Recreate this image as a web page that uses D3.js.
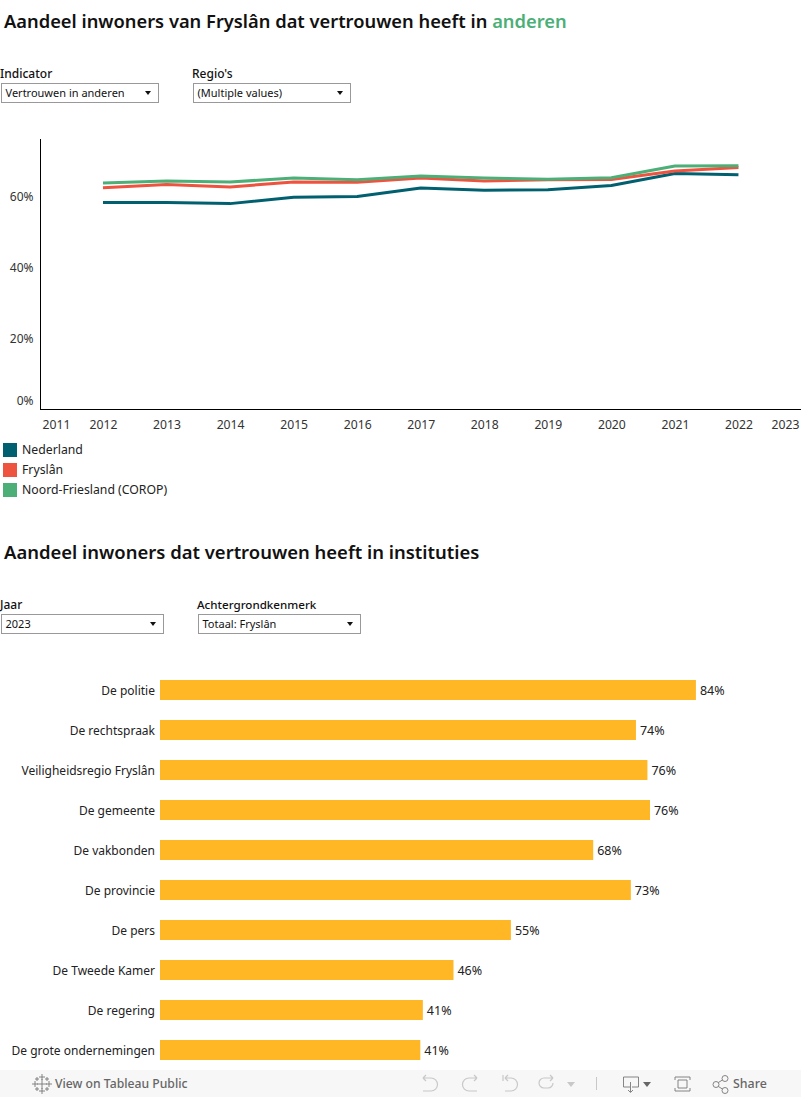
<!DOCTYPE html>
<html><head><meta charset="utf-8">
<script src="https://cdn.jsdelivr.net/npm/d3@7"></script>
<style>
html,body{margin:0;padding:0;background:#fff;overflow:hidden}
svg{display:block}
text{font-family:"Noto Sans","Open Sans",sans-serif}
</style></head><body>
<svg id="c" width="801" height="1097"></svg>
<script>
const years=[2012,2013,2014,2015,2016,2017,2018,2019,2020,2021,2022];
const axisYears=[2011,2012,2013,2014,2015,2016,2017,2018,2019,2020,2021,2022,2023];
const nederland=[58.3,58.3,58.0,59.8,60.0,62.4,61.8,61.9,63.1,66.5,66.1];
const fryslan=[62.5,63.4,62.7,64.1,64.0,65.2,64.4,64.7,64.8,67.2,68.2];
const noordFriesland=[63.8,64.4,64.1,65.2,64.7,65.8,65.2,64.9,65.3,68.6,68.7];
const seriesNames=["Nederland","Fryslân","Noord-Friesland (COROP)"];
const seriesColors=["#00606f","#ee5340","#4caf78"];
const yTicks=[0,20,40,60];
const instituties=["De politie","De rechtspraak","Veiligheidsregio Fryslân","De gemeente","De vakbonden","De provincie","De pers","De Tweede Kamer","De regering","De grote ondernemingen"];
const vertrouwen=[84.0,74.6,76.4,76.8,67.9,73.8,55.0,46.0,41.2,40.8];
const labels=["84%","74%","76%","76%","68%","73%","55%","46%","41%","41%"];

const svg=d3.select("#c");
const ink="#111", grey="#333";
function txt(x,y,s,size,opt={}){
  return svg.append("text").attr("x",x).attr("y",y).text(s)
    .attr("font-size",size).attr("fill",opt.fill||ink)
    .attr("font-weight",opt.weight||400).attr("text-anchor",opt.anchor||"start");
}
// titles
const t1=txt(4,28,"Aandeel inwoners van Fryslân dat vertrouwen heeft in ",18.31,{weight:600});
t1.append("tspan").attr("fill","#4caf78").text("anderen");
txt(4,559,"Aandeel inwoners dat vertrouwen heeft in instituties",18.45,{weight:600});

// dropdowns
function dropdown(lx,ly,label,bx,by,w,val,ls=12){
  txt(lx,ly,label,ls,{weight:500});
  svg.append("rect").attr("x",bx+.5).attr("y",by+.5).attr("width",w).attr("height",19)
    .attr("fill","#fff").attr("stroke","#999");
  txt(bx+4.5,by+14,val,11);
  const cx=bx+w-10, cy=by+10;
  svg.append("path").attr("d",d3.line()([[cx-3,cy-2],[cx+3,cy-2],[cx,cy+2]])+"Z").attr("fill","#111");
}
dropdown(0,78,"Indicator",1,83,157,"Vertrouwen in anderen");
dropdown(192,78,"Regio's",193,83,157,"(Multiple values)");
dropdown(0,609,"Jaar",1,614,162,"2023");
dropdown(197,609,"Achtergrondkenmerk",198,614,162,"Totaal: Fryslân",11.6);

// line chart
const x=d3.scaleLinear().domain([2011,2023]).range([39.45,802]);
const y=d3.scaleLinear().domain([0,75.5]).range([409.5,141.5]);
const g=svg.append("g");
const line=d3.line().x((d,i)=>x(years[i])).y(d=>y(d));
[nederland,fryslan,noordFriesland].forEach((s,i)=>{
  g.append("path").attr("d",line(s)).attr("fill","none").attr("stroke",seriesColors[i])
   .attr("stroke-width",3).attr("stroke-linejoin","round");
});
// axes
const yAxis=svg.append("g").attr("transform","translate(40.5,0)")
  .call(d3.axisLeft(y).tickValues(yTicks).tickSize(0).tickFormat(d=>d+"%"));
yAxis.select(".domain").attr("d",`M0,139V409.5`).attr("stroke","#000");
yAxis.selectAll("text").attr("font-size",12).attr("font-family",null).attr("fill",grey).attr("x",-7)
  .attr("dy",(d)=>d===0?"-5px":"4px");
const xAxis=svg.append("g").attr("transform","translate(0,409.5)")
  .call(d3.axisBottom(x).tickValues(axisYears).tickSize(0).tickFormat(d3.format("d")));
xAxis.select(".domain").attr("d",`M40,0H801`).attr("stroke","#000");
xAxis.selectAll("text").attr("font-size",12.2).attr("font-family",null).attr("fill",grey).attr("y",11).attr("dy",".71em")
  .attr("dx",d=>d===2011?16.5:d===2023?-17:0);

// legend
seriesNames.forEach((n,i)=>{
  const ly=443+i*20;
  svg.append("rect").attr("x",3).attr("y",ly).attr("width",14).attr("height",14).attr("fill",seriesColors[i]);
  txt(22,ly+11,n,12.25,{fill:"#222"});
});

// bars
const bx=d3.scaleLinear().domain([0,100]).range([160,798]);
const by=d3.scaleBand().domain(instituties).range([670,1070]).paddingInner(.5).paddingOuter(.25);
svg.append("g").selectAll("rect").data(instituties).join("rect")
  .attr("x",bx(0)).attr("y",d=>by(d)).attr("height",by.bandwidth())
  .attr("width",(d,i)=>bx(vertrouwen[i])-bx(0)).attr("fill","#ffb726");
instituties.forEach((n,i)=>{
  const cy=by(n)+by.bandwidth()/2+5;
  txt(155,cy,n,12,{anchor:"end",fill:"#222"});
  txt(bx(vertrouwen[i])+4,cy,labels[i],12.5,{fill:"#222"});
});

// toolbar
svg.append("rect").attr("x",0).attr("y",1070).attr("width",801).attr("height",27).attr("fill","#f7f7f7");
txt(55,1088,"View on Tableau Public",12.2,{fill:"#666",weight:500});
txt(733,1088,"Share",12.4,{fill:"#666",weight:500});
const ic=svg.append("g").attr("fill","none").attr("stroke","#777").attr("stroke-width",.9);
// tableau logo
[[42,1084,5],[42,1077,3],[42,1091,3],[35,1084,3],[49,1084,3],[37,1079,2],[47,1079,2],[37,1089,2],[47,1089,2]].forEach(([a,b,r])=>{
  ic.append("path").attr("d",`M${a-r},${b}H${a+r}M${a},${b-r}V${b+r}`);
});
const lite=svg.append("g").attr("fill","none").attr("stroke","#c8c8c8").attr("stroke-width",1.2);
lite.append("path").attr("d","M423,1078H431A6,6 0 0 1 431,1091H423M423,1078L426,1075M423,1078L426,1081");
lite.append("path").attr("d","M477,1078H469A6,6 0 0 0 469,1091H477M477,1078L474,1075M477,1078L474,1081");
lite.append("path").attr("d","M503,1075V1081M505,1078H511A6,6 0 0 1 511,1091H505M505,1078L508,1075M505,1078L508,1081");
lite.append("path").attr("d","M553,1078H544A5,5 0 0 0 544,1088H548A5,5 0 0 0 553,1083M553,1078L550,1075M553,1078L550,1081");
svg.append("path").attr("d","M567,1082H575L571,1087Z").attr("fill","#c8c8c8");
svg.append("path").attr("d","M596.5,1077V1090").attr("stroke","#c8c8c8");
ic.append("path").attr("d","M630,1087H623.5V1077H638.5V1087H632M630.5,1082V1092M628,1090L630.5,1092.5L633,1090");
svg.append("path").attr("d","M643,1082H651L647,1087Z").attr("fill","#666");
ic.append("path").attr("d","M675,1080V1077H690V1080M675,1088V1091H690V1088M678,1080H687V1088H678Z");
ic.append("path").attr("d","M716,1084L724,1079M716,1085L724,1090");
ic.selectAll(null).data([[716,1084.5],[725,1078.5],[725,1090.5]]).join("circle").attr("cx",d=>d[0]).attr("cy",d=>d[1]).attr("r",3).attr("fill","#f7f7f7");
</script>
</body></html>
